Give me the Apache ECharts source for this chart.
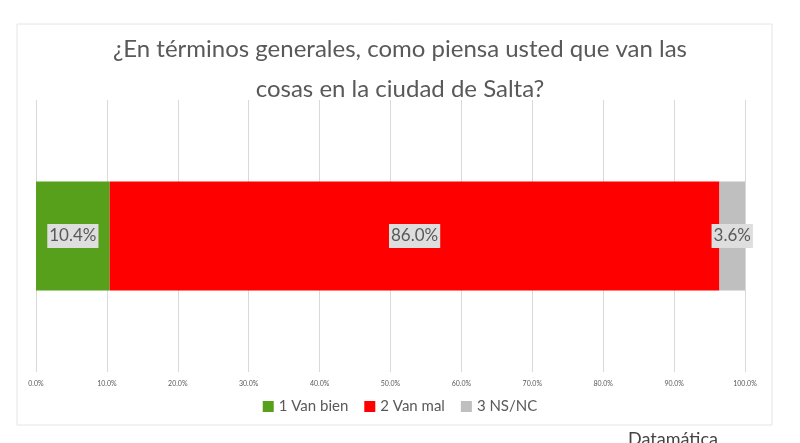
<!DOCTYPE html>
<html><head><meta charset="utf-8">
<script src="https://cdn.jsdelivr.net/npm/echarts@6/dist/echarts.min.js"></script>
<style>html,body{margin:0;padding:0;background:#fff}#c{width:800px;height:443px}</style>
</head><body><div id="c"></div>
<script>
const categories = ['Salta'];
const seriesNames = ['1 Van bien', '2 Van mal', '3 NS/NC'];
const vanBien = [10.4];
const vanMal = [86.0];
const nsnc = [3.6];
const tickValues = [0,10,20,30,40,50,60,70,80,90,100];
const colors = ['#57a01c', '#ff0000', '#bfbfbf'];
const font = 'Lato, "Open Sans", sans-serif';
const chart = echarts.init(document.getElementById('c'));
const mk = (name, data, color) => ({
  name, type: 'bar', stack: 't', data, barWidth: 109,
  itemStyle: { color },
  label: { show: true, position: 'inside', formatter: p => p.value.toFixed(1) + '%',
    color: '#595959', fontSize: 17, fontFamily: font, backgroundColor: '#dedede', padding: [4, 2, 3, 2] }
});
chart.setOption({
  animation: false,
  title: { text: '¿En términos generales, como piensa usted que van las\ncosas en la ciudad de Salta?', left: 'center', top: 24,
    textStyle: { color: '#595959', fontSize: 24, fontWeight: 'normal', fontFamily: font, lineHeight: 40 } },
  graphic: [
    { type: 'rect', shape: { x: 17, y: 24, width: 755, height: 401 }, style: { fill: 'none', stroke: '#e4e4e4', lineWidth: 1 }, z: -1 },
    { type: 'text', left: 628, top: 430, style: { text: 'Datamática', fill: '#444', font: '18px ' + font } }
  ],
  legend: { bottom: 24, left: 'center', itemWidth: 11, itemHeight: 11, itemGap: 16, icon: 'rect',
    textStyle: { color: '#595959', fontSize: 15, fontFamily: font }, data: seriesNames },
  grid: { left: 36, right: 55, top: 100, bottom: 71 },
  xAxis: { type: 'value', min: 0, max: 100, interval: 10,
    axisLine: { show: false }, axisTick: { show: false },
    axisLabel: { formatter: v => v.toFixed(1) + '%', fontSize: 7, color: '#595959', margin: 8, fontFamily: font },
    splitLine: { show: true, lineStyle: { color: '#d9d9d9' } } },
  yAxis: { type: 'category', data: categories, show: false },
  series: [mk(seriesNames[0], vanBien, colors[0]), mk(seriesNames[1], vanMal, colors[1]), mk(seriesNames[2], nsnc, colors[2])]
});
</script></body></html>
